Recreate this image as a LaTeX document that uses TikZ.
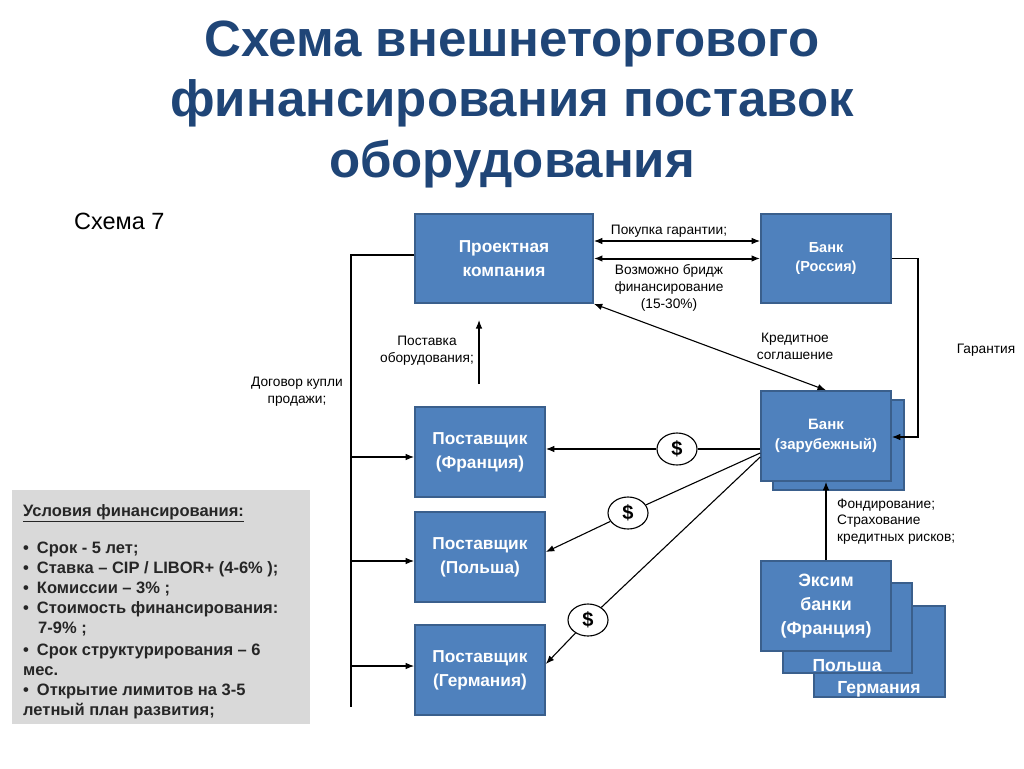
\documentclass[tikz,border=0pt]{standalone}
\usepackage{fontspec}
\setmainfont{Liberation Sans}
\usetikzlibrary{arrows.meta,shapes.geometric}
\definecolor{boxblue}{HTML}{4F81BD}
\definecolor{boxline}{HTML}{3A5F8C}
\definecolor{titleblue}{HTML}{1F4577}
\definecolor{condgray}{HTML}{D9D9D9}
\definecolor{condtext}{HTML}{262626}
\newcommand{\fsz}[2]{\fontsize{#1}{#2}\selectfont}
\begin{document}
\begin{tikzpicture}[x=1pt,y=-1pt,
  box/.style={draw=boxline,fill=boxblue,line width=1.6pt,text=white,align=center,inner sep=0pt,font=\bfseries\fsz{17.3}{23.5}},
  btxt/.style={text=white,inner sep=0pt,font=\bfseries\fsz{17.5}{20}},
  lbl/.style={align=center,inner sep=0pt,font=\fsz{13.7}{16.8}},
  ctxt/.style={anchor=base west,inner sep=0pt,text=condtext,font=\bfseries\fsz{16.5}{20}},
  arr/.style={-{Latex[length=8.5pt,width=6.5pt]},line width=1.1pt},
  darr/.style={{Latex[length=8.5pt,width=6.5pt]}-{Latex[length=8.5pt,width=6.5pt]},line width=1.1pt},
  dollar/.style={ellipse,draw,fill=white,line width=1.1pt,minimum width=40pt,minimum height=32pt,inner sep=0pt,font=\bfseries\fsz{20}{20}}]
\useasboundingbox (0,0) rectangle (1024,768);
\fill[white] (0,0) rectangle (1024,768);

% title
\node[font=\bfseries\fsz{51}{60.5},text=titleblue,align=center,inner sep=0pt] (title) at (512,104) {Схема внешнеторгового\\финансирования поставок\\оборудования};
\node[font=\fsz{23.5}{26},anchor=west,inner sep=0pt] (s7) at (74,221) {Схема 7};

% conditions
\node[fill=condgray,minimum width=298pt,minimum height=234pt,anchor=north west,inner sep=0pt] (cond) at (12,490) {};
\node[ctxt] (c0) at (23,516.5) {\underline{Условия финансирования:}};
\node[ctxt] (c1) at (23,553.5) {•\hspace{8pt}Срок - 5 лет;};
\node[ctxt] (c2) at (23,573.5) {•\hspace{8pt}Ставка – CIP / LIBOR+ (4-6\% );};
\node[ctxt] (c3) at (23,593.5) {•\hspace{8pt}Комиссии – 3\% ;};
\node[ctxt] (c4) at (23,613.5) {•\hspace{8pt}Стоимость финансирования:};
\node[ctxt] (c5) at (38,633.5) {7-9\% ;};
\node[ctxt] (c6) at (23,655.5) {•\hspace{8pt}Срок структурирования – 6};
\node[ctxt] (c7) at (23,675.5) {мес.};
\node[ctxt] (c8) at (23,695.5) {•\hspace{8pt}Открытие лимитов на 3-5};
\node[ctxt] (c9) at (23,715.5) {летный план развития;};

% boxes
\node[box,minimum width=178pt,minimum height=89pt] (pk) at (504,258.5) {Проектная\\компания};
\node[box,minimum width=130pt,minimum height=89pt,font=\bfseries\fsz{14.5}{19.5}] (br) at (826,258.5) {Банк\\(Россия)};
\node[box,minimum width=131pt,minimum height=90pt] (bzb) at (838.5,445) {};
\node[box,minimum width=130pt,minimum height=90pt,font=\bfseries\fsz{15}{20}] (bz) at (826,436) {Банк\\(зарубежный)};
\node[box,minimum width=130pt,minimum height=90pt,font=\bfseries\fsz{17.3}{24}] (pf) at (480,452) {Поставщик\\(Франция)};
\node[box,minimum width=130pt,minimum height=90pt,font=\bfseries\fsz{17.3}{24}] (pp) at (480,557) {Поставщик\\(Польша)};
\node[box,minimum width=130pt,minimum height=90pt,font=\bfseries\fsz{17.3}{24}] (pg) at (480,670) {Поставщик\\(Германия)};
\node[box,minimum width=131pt,minimum height=91pt] (e3) at (879.5,651.5) {};
\node[btxt] (e3t) at (879,689) {Германия};
\node[box,minimum width=129pt,minimum height=90pt] (e2) at (847.5,628) {};
\node[btxt] (e2t) at (847,666) {Польша};
\node[box,minimum width=130pt,minimum height=90pt,font=\bfseries\fsz{17.8}{24}] (e1) at (826,606) {Эксим\\банки\\(Франция)};

% labels
\node[lbl] (pok) at (669,231) {Покупка гарантии;};
\node[lbl] (voz) at (669,288) {Возможно бридж\\финансирование\\(15-30\%)};
\node[lbl] (kred) at (795,346.5) {Кредитное\\соглашение};
\node[lbl] (gar) at (986,350) {Гарантия};
\node[lbl] (post) at (427,350.5) {Поставка\\оборудования;};
\node[lbl] (dog) at (297,391.5) {Договор купли\\продажи;};
\node[lbl,align=left,anchor=west] (fond) at (837,521.5) {Фондирование;\\Страхование\\кредитных рисков;};

% coordinates
\coordinate (vt) at (351,255);
\coordinate (vb) at (351,707);
\coordinate (gx) at (918,0);
\coordinate (pu) at (479,384);
\coordinate (pe) at (479,320);

% top connectors
\draw[darr] ([yshift=17.5pt]pk.east) -- ([yshift=17.5pt]br.west);
\draw[darr,line width=2pt] (pk.east) -- (br.west);
\draw[darr] (pk.south east) -- (bz.north);
\draw[arr] (br.east) -| ([yshift=-1pt]gx |- bz.east) -- ([yshift=-1pt]bz.east);

% left contract line
\draw[line width=1.1pt] ([yshift=3.5pt]pk.west) -- (vt) -- (vb);
\draw[arr] (vt |- 0,457) -- (pf.west |- 0,457);
\draw[arr] (vt |- 0,561) -- (pp.west |- 0,561);
\draw[arr] (vt |- 0,666) -- (pg.west |- 0,666);

% equipment supply
\draw[arr] (pu) -- (pe);

% funding
\draw[arr] (e1.north) -- (bz.south);

% money flows
\node[dollar] (d1) at (677,449) {\$};
\node[dollar] (d2) at (628,513) {\$};
\node[dollar] (d3) at (588,620) {\$};
\draw[line width=1.1pt] ([yshift=-13pt]bz.west) -- (d1);
\draw[arr] (d1) -- (pf.east |- d1);
\draw[line width=1.1pt] ([yshift=-17pt]bz.west) -- (d2);
\draw[arr] (d2) -- ([yshift=5pt]pp.east);
\draw[line width=1.1pt] ([yshift=-21pt]bz.west) -- (d3);
\draw[arr] (d3) -- ([yshift=6pt]pg.east);
\end{tikzpicture}
\end{document}
